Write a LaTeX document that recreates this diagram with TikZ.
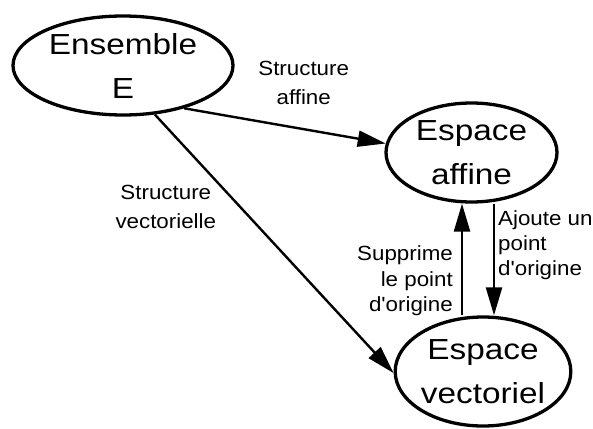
\documentclass[tikz,border=0pt]{standalone}
\usepackage{fontspec}
\setmainfont{Liberation Sans}[FakeStretch=1.15,Ligatures=TeXOff]
\newfontfamily\lblfont{Liberation Sans}[FakeStretch=1.09,Ligatures=TeXOff]
\usetikzlibrary{shapes.geometric,arrows.meta}
\begin{document}
\begin{tikzpicture}[x=1pt,y=-1pt,
  ell/.style={ellipse,draw,line width=3.3pt,inner sep=0pt,align=center,
    font=\fontsize{29}{44}\selectfont},
  lbl/.style={inner sep=0pt,font=\lblfont\fontsize{20.5}{28.6}\selectfont},
  lbs/.style={inner sep=0pt,font=\lblfont\fontsize{20.5}{25.3}\selectfont},
  conn/.style={line width=2.4pt,-{Triangle[length=28pt,width=16pt]}}]
\useasboundingbox (0,0) rectangle (593,428);
\node[ell,minimum width=220pt,minimum height=99pt] (E) at (123,65.5) {Ensemble\\E};
\node[ell,minimum width=171pt,minimum height=99pt] (A) at (471.5,152.5) {Espace\\affine};
\node[ell,minimum width=170pt,minimum height=109pt] (V) at (483,371.5) {Espace\\vectoriel};
\coordinate (upx) at (462,0);
\coordinate (dnx) at (494,0);
\draw[conn] (E.-35) -- (A.174);
\draw[conn] (E.-57) -- (V.181);
\draw[conn] (V.north -| upx) -- (A.south -| upx);
\draw[conn] (A.south -| dnx) -- (V.north -| dnx);
\node[lbl,align=center,anchor=base] (l1) at (303.7,104.3) {Structure\\affine};
\node[lbl,align=center,anchor=base] (l2) at (165.8,228) {Structure\\vectorielle};
\node[lbs,align=right,anchor=base east] (l3) at (453,311.3) {Supprime\\le point\\d'origine};
\node[lbs,align=left,anchor=base west] (l4) at (498,275.6) {Ajoute un\\point\\d'origine};
\end{tikzpicture}
\end{document}
